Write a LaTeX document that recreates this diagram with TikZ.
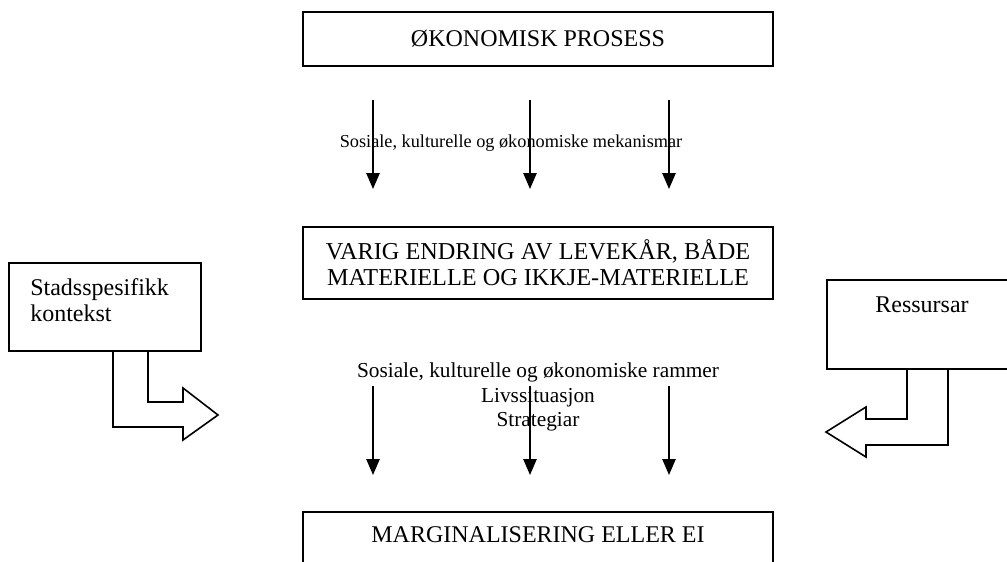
\documentclass[tikz,border=0pt]{standalone}
\usepackage{fontspec}
\setmainfont{Liberation Serif}
\usetikzlibrary{arrows.meta,calc}
\begin{document}
\begin{tikzpicture}[x=0.75pt,y=-0.75pt,
  boxline/.style={draw=black,line width=1.4pt},
  flow/.style={draw=black,line width=1.2pt,-{Triangle[length=12pt,width=10pt]}},
  big/.style={font=\fontsize{18}{19.5}\selectfont},
  small/.style={font=\fontsize{13.7}{18.4}\selectfont},
  mid/.style={font=\fontsize{16}{18.4}\selectfont},
  blockarrow/.style={draw=black,line width=1.2pt,line join=miter}]
\useasboundingbox (0,0) rectangle (1007,561);

% main boxes
\node[boxline,big,minimum width=352.5pt,minimum height=40.5pt] (oek) at (538,39) {ØKONOMISK PROSESS};
\node[boxline,font=\fontsize{18.2}{19.5}\selectfont,minimum width=352.5pt,minimum height=54pt,align=center] (varig) at (538,263)
  {VARIG ENDRING AV LEVEKÅR, BÅDE\\MATERIELLE OG IKKJE-MATERIELLE};
\node[boxline,minimum width=352.5pt,minimum height=52pt,anchor=north] (margbox) at (538,511) {};
\node[big] (marg) at (538,535) {MARGINALISERING ELLER EI};

% labels
\node[small] (mek) at (511,143) {Sosiale, kulturelle og økonomiske mekanismar};
\node[mid,align=center] (ramme) at (538,397)
  {Sosiale, kulturelle og økonomiske rammer\\Livssituasjon\\Strategiar};

% side boxes
\node[boxline,minimum width=144pt,minimum height=66pt,anchor=north west] (ctx) at (8,262) {};
\node[big,align=left,anchor=west,inner sep=0pt] (ctxt) at (30,300) {Stadsspesifikk\\kontekst};
\node[boxline,minimum width=143pt,minimum height=66.75pt,anchor=north west] (res) at (826,279) {};
\node[big] (rest) at (922,305) {Ressursar};

% arrow coordinates
\coordinate (t1s) at (373,100); \coordinate (t1e) at (373,189);
\coordinate (t2s) at (530,100); \coordinate (t2e) at (530,189);
\coordinate (t3s) at (669,100); \coordinate (t3e) at (669,189);
\coordinate (b1s) at (373,386); \coordinate (b1e) at (373,475);
\coordinate (b2s) at (530,386); \coordinate (b2e) at (530,475);
\coordinate (b3s) at (669,386); \coordinate (b3e) at (669,475);

\draw[flow] (t1s) -- (t1e);
\draw[flow] (t2s) -- (t2e);
\draw[flow] (t3s) -- (t3e);
\draw[flow] (b1s) -- (b1e);
\draw[flow] (b2s) -- (b2e);
\draw[flow] (b3s) -- (b3e);

% block arrows
\draw[blockarrow] (148,350) -- (148,402) -- (183,402) -- (183,388) -- (218,415)
  -- (183,440) -- (183,427) -- (113,427) -- (113,350);
\draw[blockarrow] (907,368) -- (907,419) -- (866,419) -- (866,407) -- (826,432)
  -- (866,457) -- (866,445) -- (948,445) -- (948,368);
\end{tikzpicture}
\end{document}
